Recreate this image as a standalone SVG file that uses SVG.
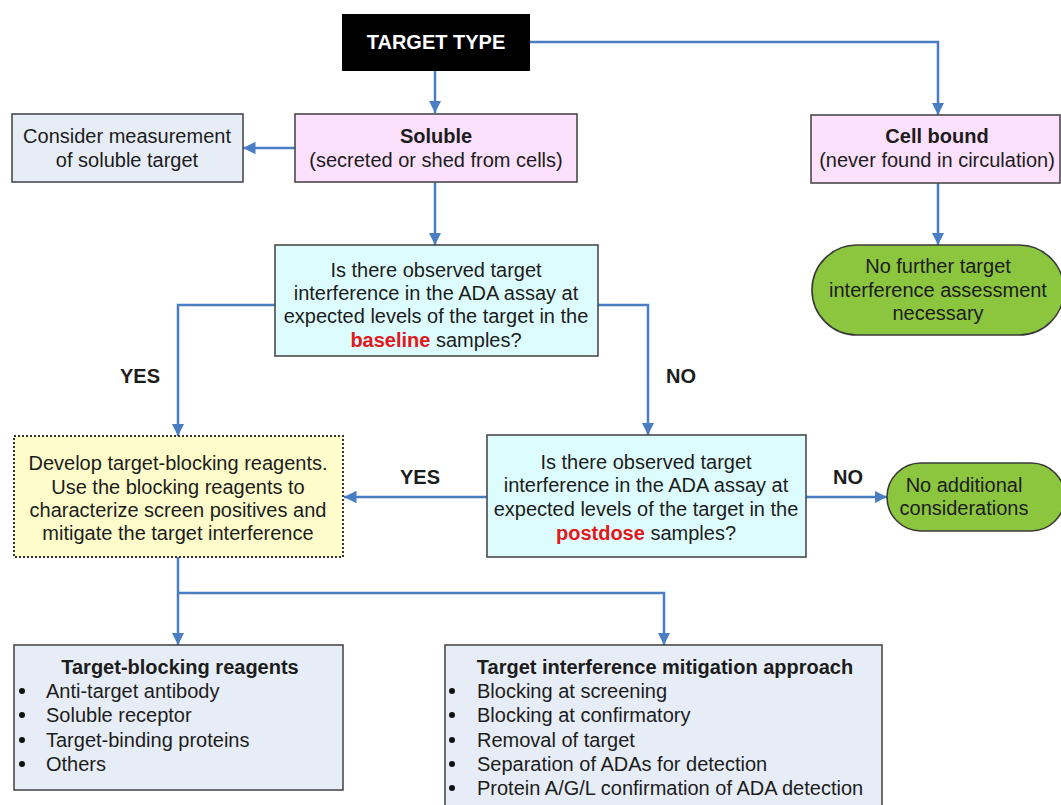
<svg xmlns="http://www.w3.org/2000/svg" width="1061" height="805" viewBox="0 0 1061 805">
<defs>
<marker id="ah" viewBox="0 0 10 10" refX="10" refY="5" markerWidth="5" markerHeight="5" markerUnits="strokeWidth" orient="auto">
<path d="M0,0 L10,5 L0,10 z" fill="#4a7ec2"/>
</marker>
<style>
text{font-family:"Liberation Sans",Arial,sans-serif;font-size:20px;fill:#1c1c1c}
.c{text-anchor:middle}
.b{font-weight:bold}
.box{stroke:#4a4a4a;stroke-width:1.6}
.pink{fill:#fde0fc}
.gray{fill:#e7edf6}
.cyan{fill:#dcfcfd}
.yel{fill:#fefccb;stroke:#333;stroke-width:2;stroke-dasharray:2 2}
.grn{fill:#8cc63f;stroke:#3a3a3a;stroke-width:1.6}
.red{fill:#e3171c;font-weight:bold}
.conn path{fill:none;stroke:#4a7ec2;stroke-width:2.5}
</style>
</defs>
<rect width="1061" height="805" fill="#ffffff"/>
<g class="conn">
<path d="M435 71 V113" marker-end="url(#ah)"/>
<path d="M530 42 H938 V115" marker-end="url(#ah)"/>
<path d="M295 148 H243" marker-end="url(#ah)"/>
<path d="M435 182 V245" marker-end="url(#ah)"/>
<path d="M938 183 V245" marker-end="url(#ah)"/>
<path d="M275 305 H178 V436" marker-end="url(#ah)"/>
<path d="M598 305 H648 V435" marker-end="url(#ah)"/>
<path d="M487 497 H344" marker-end="url(#ah)"/>
<path d="M806 497 H887" marker-end="url(#ah)"/>
<path d="M178 557 V645" marker-end="url(#ah)"/>
<path d="M178 593 H664 V645" marker-end="url(#ah)"/>
</g>
<g id="labels">
<text class="b c" x="140" y="383">YES</text>
<text class="b c" x="681" y="383">NO</text>
<text class="b c" x="420" y="484">YES</text>
<text class="b c" x="848" y="484">NO</text>
</g>
<g id="target-type">
<rect x="342" y="14" width="188" height="57" fill="#000"/>
<text class="b c" x="436" y="49" style="fill:#fff">TARGET TYPE</text>
</g>
<g id="soluble">
<rect class="box pink" x="295" y="114" width="282" height="68"/>
<text class="b c" x="436" y="143">Soluble</text>
<text class="c" x="436" y="167">(secreted or shed from cells)</text>
</g>
<g id="consider">
<rect class="box gray" x="12" y="114" width="231" height="68"/>
<text class="c" x="127" y="143">Consider measurement</text>
<text class="c" x="127" y="167">of soluble target</text>
</g>
<g id="cell-bound">
<rect class="box pink" x="811" y="115" width="249" height="68"/>
<text class="b c" x="937" y="143">Cell bound</text>
<text class="c" x="937" y="167">(never found in circulation)</text>
</g>
<g id="no-further">
<rect class="grn" x="812" y="245" width="252" height="90" rx="45"/>
<text class="c" x="938" y="273">No further target</text>
<text class="c" x="938" y="297">interference assessment</text>
<text class="c" x="938" y="320">necessary</text>
</g>
<g id="q-baseline">
<rect class="box cyan" x="275" y="245" width="323" height="111"/>
<text class="c" x="436" y="277">Is there observed target</text>
<text class="c" x="436" y="300">interference in the ADA assay at</text>
<text class="c" x="436" y="323">expected levels of the target in the</text>
<text class="c" x="436" y="347"><tspan class="red">baseline</tspan> samples?</text>
</g>
<g id="develop">
<rect class="yel" x="14" y="436" width="329" height="121"/>
<text class="c" x="178" y="470">Develop target-blocking reagents.</text>
<text class="c" x="178" y="494">Use the blocking reagents to</text>
<text class="c" x="178" y="517">characterize screen positives and</text>
<text class="c" x="178" y="540">mitigate the target interference</text>
</g>
<g id="q-postdose">
<rect class="box cyan" x="487" y="435" width="319" height="122"/>
<text class="c" x="646" y="469">Is there observed target</text>
<text class="c" x="646" y="492">interference in the ADA assay at</text>
<text class="c" x="646" y="516">expected levels of the target in the</text>
<text class="c" x="646" y="540"><tspan class="red">postdose</tspan> samples?</text>
</g>
<g id="no-additional">
<rect class="grn" x="887" y="463" width="178" height="68" rx="34"/>
<text class="c" x="964" y="492">No additional</text>
<text class="c" x="964" y="515">considerations</text>
</g>
<g id="reagents">
<rect class="box gray" x="14" y="645" width="329" height="145"/>
<text class="b c" x="180" y="674">Target-blocking reagents</text>
<g>
<circle cx="22" cy="691" r="3" fill="#111"/>
<circle cx="22" cy="715" r="3" fill="#111"/>
<circle cx="22" cy="740" r="3" fill="#111"/>
<circle cx="22" cy="764" r="3" fill="#111"/>
</g>
<text x="46" y="698">Anti-target antibody</text>
<text x="46" y="722">Soluble receptor</text>
<text x="46" y="747">Target-binding proteins</text>
<text x="46" y="771">Others</text>
</g>
<g id="mitigation">
<rect class="box gray" x="445" y="645" width="437" height="170"/>
<text class="b c" x="665" y="674">Target interference mitigation approach</text>
<g>
<circle cx="452" cy="691" r="3" fill="#111"/>
<circle cx="452" cy="715" r="3" fill="#111"/>
<circle cx="452" cy="740" r="3" fill="#111"/>
<circle cx="452" cy="764" r="3" fill="#111"/>
<circle cx="452" cy="788" r="3" fill="#111"/>
</g>
<text x="477" y="698">Blocking at screening</text>
<text x="477" y="722">Blocking at confirmatory</text>
<text x="477" y="747">Removal of target</text>
<text x="477" y="771">Separation of ADAs for detection</text>
<text x="477" y="795">Protein A/G/L confirmation of ADA detection</text>
</g>
</svg>
